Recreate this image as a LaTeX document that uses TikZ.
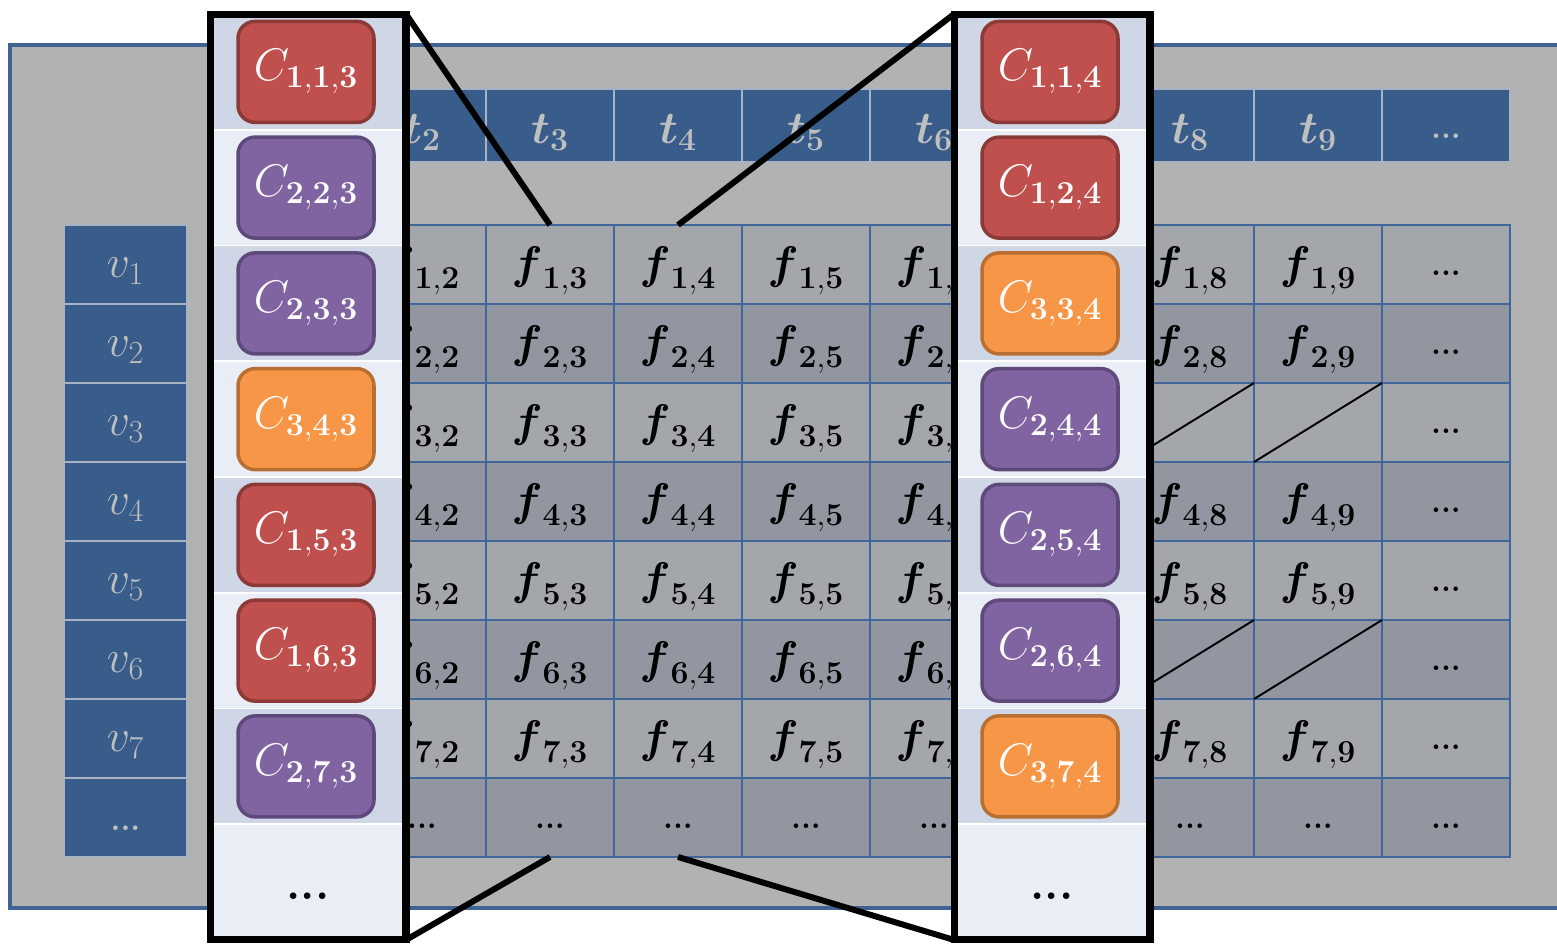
\documentclass[tikz,border=0pt]{standalone}
\IfFileExists{fix-cm.sty}{\usepackage{fix-cm}}{}
\usepackage{amsmath}
\definecolor{outerc}{HTML}{B2B2B2}
\definecolor{borderc}{HTML}{3F6494}
\definecolor{headc}{HTML}{385D8A}
\definecolor{headtxt}{HTML}{BFBFBF}
\definecolor{sepc}{HTML}{A7B2C2}
\definecolor{celll}{HTML}{A3A6AB}
\definecolor{celld}{HTML}{9296A0}
\definecolor{gridc}{HTML}{41679A}
\definecolor{bandd}{HTML}{CFD6E5}
\definecolor{bandl}{HTML}{E9EDF5}
\definecolor{redf}{HTML}{C0504D}
\definecolor{redb}{HTML}{8C3A38}
\definecolor{purf}{HTML}{8064A2}
\definecolor{purb}{HTML}{5E4A7A}
\definecolor{oraf}{HTML}{F79646}
\definecolor{orab}{HTML}{B96F32}
\newcommand\fbig{\fontsize{26}{30}\selectfont}
\newcommand\fdot{\fontsize{18}{20}\selectfont\bfseries}
\newcommand\fcdot{\fontsize{26}{30}\selectfont\bfseries}
\tikzset{
  every node/.style={inner sep=0pt, outer sep=0pt},
  outerbox/.style={fill=outerc, draw=borderc, line width=1.8pt},
  gridcell/.style={draw=gridc, line width=1.5pt, minimum width=2.56cm, minimum height=1.58cm},
  celltext/.style={font=\fbig, text=black, yshift=-0.12cm},
  celldots/.style={font=\fdot, text=black, yshift=-0.18cm},
  hdrcell/.style={fill=headc, draw=sepc, line width=0.9pt, minimum width=2.56cm, minimum height=1.46cm},
  vcell/.style={fill=headc, draw=sepc, line width=0.9pt, minimum width=2.46cm, minimum height=1.58cm},
  hdrtext/.style={font=\fbig, text=headtxt, yshift=-0.14cm},
  hdrdots/.style={font=\fdot, text=headtxt, yshift=-0.22cm},
  bandcell/.style={draw=white, line width=1.1pt, minimum width=3.92cm, minimum height=2.315cm},
  calloutbox/.style={draw=black, line width=4pt, minimum width=3.92cm, minimum height=18.52cm},
  cbox/.style={rounded corners=0.34cm, line width=2pt, minimum width=2.72cm, minimum height=2.02cm, font=\fbig, text=white},
  redbox/.style={cbox, fill=redf, draw=redb},
  purbox/.style={cbox, fill=purf, draw=purb},
  orabox/.style={cbox, fill=oraf, draw=orab},
  bigdots/.style={font=\fcdot, text=black, yshift=-0.28cm},
  connline/.style={draw=black, line width=3.4pt},
  diagline/.style={draw=black, line width=1.1pt},
}
\begin{document}
\begin{tikzpicture}[x=0.02cm, y=-0.02cm]
\useasboundingbox (0,0) rectangle (1557,943);
% outer panel
\draw[outerbox] (10,45) rectangle (1600,908);
% header row
\foreach \cc in {1,...,10} {
  \pgfmathsetmacro\xx{294+128*(\cc-1)}
  \node[hdrcell] (h-\cc) at (\xx,125.5) {};
}
\foreach \cc in {2,...,6,8,9} {
  \node[hdrtext] at (h-\cc) {$\boldsymbol{t}_{\mathbf{\cc}}$};
}
\node[hdrdots] at (h-10) {...};
% v column
\foreach \rr in {1,...,8} {
  \pgfmathsetmacro\yy{264.5+79*(\rr-1)}
  \node[vcell] (v-\rr) at (125.5,\yy) {};
}
\foreach \rr in {1,...,7} {
  \node[hdrtext] at (v-\rr) {$v_{\rr}$};
}
\node[hdrdots] at (v-8) {...};
% grid cells
\foreach \rr in {1,...,8} {
  \foreach \cc in {1,...,10} {
    \pgfmathtruncatemacro\pct{100*mod(\rr,2)}
    \pgfmathsetmacro\xx{294+128*(\cc-1)}
    \pgfmathsetmacro\yy{264.5+79*(\rr-1)}
    \node[gridcell, fill=celll!\pct!celld] (f-\rr-\cc) at (\xx,\yy) {};
  }
}
% cell labels (columns 1 and 7 lie fully under the callouts)
\foreach \rr in {1,2,4,5,7} {
  \foreach \cc in {2,...,6,8,9} {
    \node[celltext] at (f-\rr-\cc) {$\boldsymbol{f}_{\mathbf{\rr,\cc}}$};
  }
}
\foreach \rr in {3,6} {
  \foreach \cc in {2,...,6} {
    \node[celltext] at (f-\rr-\cc) {$\boldsymbol{f}_{\mathbf{\rr,\cc}}$};
  }
}
\foreach \rr in {1,...,8} {
  \node[celldots] at (f-\rr-10) {...};
}
\foreach \cc in {2,...,6,8,9} {
  \node[celldots] at (f-8-\cc) {...};
}
% crossed-out cells
\foreach \rr in {3,6} {
  \foreach \cc in {7,8,9} {
    \draw[diagline] (f-\rr-\cc.south west) -- (f-\rr-\cc.north east);
  }
}
% left callout
\foreach \ii in {0,...,7} {
  \pgfmathtruncatemacro\pct{100*mod(\ii,2)}
  \pgfmathsetmacro\yy{71.875+115.75*\ii}
  \node[bandcell, fill=bandl!\pct!bandd] (lb-\ii) at (308,\yy) {};
}
\node[redbox] (l1) at ([xshift=-0.04cm]lb-0) {$C_{\mathbf{1,1,3}}$};
\node[purbox] (l2) at ([xshift=-0.04cm]lb-1) {$C_{\mathbf{2,2,3}}$};
\node[purbox] (l3) at ([xshift=-0.04cm]lb-2) {$C_{\mathbf{2,3,3}}$};
\node[orabox] (l4) at ([xshift=-0.04cm]lb-3) {$C_{\mathbf{3,4,3}}$};
\node[redbox] (l5) at ([xshift=-0.04cm]lb-4) {$C_{\mathbf{1,5,3}}$};
\node[redbox] (l6) at ([xshift=-0.04cm]lb-5) {$C_{\mathbf{1,6,3}}$};
\node[purbox] (l7) at ([xshift=-0.04cm]lb-6) {$C_{\mathbf{2,7,3}}$};
\node[bigdots] (l8) at (lb-7) {...};
\node[calloutbox] (L) at (308,477) {};
% right callout
\foreach \ii in {0,...,7} {
  \pgfmathtruncatemacro\pct{100*mod(\ii,2)}
  \pgfmathsetmacro\yy{71.875+115.75*\ii}
  \node[bandcell, fill=bandl!\pct!bandd] (rb-\ii) at (1052,\yy) {};
}
\node[redbox] (r1) at ([xshift=-0.04cm]rb-0) {$C_{\mathbf{1,1,4}}$};
\node[redbox] (r2) at ([xshift=-0.04cm]rb-1) {$C_{\mathbf{1,2,4}}$};
\node[orabox] (r3) at ([xshift=-0.04cm]rb-2) {$C_{\mathbf{3,3,4}}$};
\node[purbox] (r4) at ([xshift=-0.04cm]rb-3) {$C_{\mathbf{2,4,4}}$};
\node[purbox] (r5) at ([xshift=-0.04cm]rb-4) {$C_{\mathbf{2,5,4}}$};
\node[purbox] (r6) at ([xshift=-0.04cm]rb-5) {$C_{\mathbf{2,6,4}}$};
\node[orabox] (r7) at ([xshift=-0.04cm]rb-6) {$C_{\mathbf{3,7,4}}$};
\node[bigdots] (r8) at (rb-7) {...};
\node[calloutbox] (R) at (1052,477) {};
% connectors
\draw[connline] (f-1-3.north) -- (L.north east);
\draw[connline] (f-8-3.south) -- (L.south east);
\draw[connline] (f-1-4.north) -- (R.north west);
\draw[connline] (f-8-4.south) -- (R.south west);
\end{tikzpicture}
\end{document}
